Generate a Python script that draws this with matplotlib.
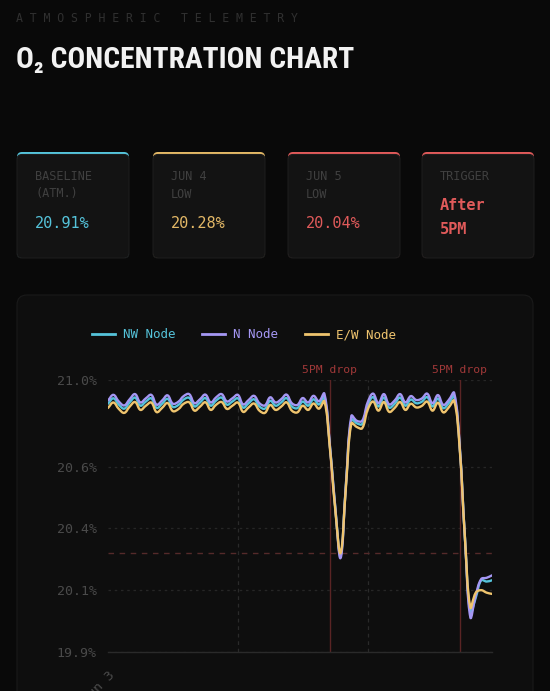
import numpy as np
import matplotlib
matplotlib.use("Agg")
import matplotlib.pyplot as plt
from matplotlib import font_manager as fm
from matplotlib.path import Path
from matplotlib.patches import PathPatch, FancyBboxPatch
from matplotlib.lines import Line2D
from matplotlib.transforms import Affine2D, blended_transform_factory

# ---------------- data ----------------
hours = list(range(72))  # hours since Jun 3 00:00

n_node = [20.917, 20.940, 20.913, 20.897, 20.922, 20.943, 20.909, 20.926, 20.940, 20.900,
          20.917, 20.938, 20.904, 20.912, 20.935, 20.943, 20.906, 20.922, 20.941, 20.909,
          20.930, 20.943, 20.913, 20.926, 20.940, 20.901, 20.919, 20.936, 20.906, 20.897,
          20.930, 20.909, 20.922, 20.941, 20.906, 20.899, 20.927, 20.909, 20.936, 20.914,
          20.945, 20.740, 20.490, 20.280, 20.580, 20.855, 20.835, 20.835, 20.909, 20.945,
          20.906, 20.943, 20.901, 20.917, 20.943, 20.909, 20.935, 20.919, 20.925, 20.945,
          20.906, 20.939, 20.899, 20.919, 20.948, 20.740, 20.360, 20.040, 20.130, 20.195,
          20.200, 20.210]

nw_node = [20.904, 20.926, 20.900, 20.884, 20.909, 20.929, 20.896, 20.913, 20.926, 20.887,
           20.904, 20.924, 20.891, 20.899, 20.921, 20.928, 20.893, 20.909, 20.927, 20.896,
           20.917, 20.929, 20.900, 20.913, 20.926, 20.888, 20.906, 20.922, 20.893, 20.884,
           20.916, 20.896, 20.909, 20.927, 20.893, 20.886, 20.913, 20.896, 20.922, 20.901,
           20.931, 20.740, 20.490, 20.290, 20.580, 20.840, 20.825, 20.822, 20.896, 20.931,
           20.893, 20.929, 20.888, 20.904, 20.929, 20.896, 20.921, 20.906, 20.912, 20.931,
           20.893, 20.925, 20.886, 20.906, 20.934, 20.740, 20.360, 20.060, 20.120, 20.190,
           20.185, 20.190]

ew_node = [20.887, 20.909, 20.883, 20.867, 20.892, 20.911, 20.879, 20.896, 20.909, 20.870,
           20.887, 20.907, 20.874, 20.882, 20.904, 20.910, 20.876, 20.892, 20.910, 20.879,
           20.900, 20.911, 20.883, 20.896, 20.909, 20.871, 20.889, 20.905, 20.876, 20.867,
           20.899, 20.879, 20.892, 20.910, 20.876, 20.869, 20.896, 20.879, 20.905, 20.884,
           20.914, 20.730, 20.480, 20.300, 20.570, 20.825, 20.810, 20.805, 20.879, 20.913,
           20.876, 20.911, 20.871, 20.887, 20.911, 20.879, 20.904, 20.889, 20.895, 20.913,
           20.876, 20.908, 20.869, 20.889, 20.916, 20.730, 20.360, 20.080, 20.140, 20.150,
           20.140, 20.135]

series_names = ["NW Node", "N Node", "E/W Node"]
series_values = [nw_node, n_node, ew_node]
series_colors = ["#55c3da", "#a597f4", "#efc46e"]

y_ticks = [19.9, 20.15, 20.4, 20.65, 21.0]
y_tick_labels = ["19.9%", "20.1%", "20.4%", "20.6%", "21.0%"]
y_limits = (19.9, 21.0)
x_limits = (0, 71)
x_tick_hours = [0]
x_tick_labels = ["Jun 3"]
day_grid_hours = [24, 48]
drop_hours = [41, 65]
drop_label = "5PM drop"
threshold = 20.30

cards = [
    {"label": "BASELINE\n(ATM.)", "value": "20.91%", "color": "#55c3da", "accent": "#55c3da"},
    {"label": "JUN 4\nLOW", "value": "20.28%", "color": "#e3b866", "accent": "#e3b866"},
    {"label": "JUN 5\nLOW", "value": "20.04%", "color": "#e05a5a", "accent": "#e05a5a"},
    {"label": "TRIGGER", "value": "After\n5PM", "color": "#e05a5a", "accent": "#e05a5a"},
]

# ---------------- figure ----------------
W, H = 550, 691
BG = "#090909"
fig = plt.figure(figsize=(W / 100, H / 100), dpi=100, facecolor=BG)
PX = Affine2D().scale(1, -1).translate(0, H)  # pixel coords from top-left
renderer = fig.canvas.get_renderer()

MONO = ["DejaVu Sans Mono"]


def px_box(x, y, w, h, fc, ec="none", r=6, lw=0.8, z=1):
    p = FancyBboxPatch((x, y), w, h, boxstyle=f"round,pad=0,rounding_size={r}",
                       transform=PX, facecolor=fc, edgecolor=ec, linewidth=lw, zorder=z)
    fig.add_artist(p)
    return p


def pick_condensed():
    narrow_stretch = ("condensed", "semi-condensed", "extra-condensed", "ultra-condensed")
    found = []
    for f in fm.fontManager.ttflist:
        st = str(f.stretch)
        is_cond = ("Condensed" in f.name or "Narrow" in f.name or st in narrow_stretch)
        try:
            wt = int(f.weight)
        except (TypeError, ValueError):
            wt = 700 if "bold" in str(f.weight).lower() else 400
        if is_cond and wt >= 600:
            found.append(f)
    prefer = ["Roboto Condensed", "Open Sans Condensed", "Liberation Sans Narrow",
              "Noto Sans", "DejaVu Sans", "Open Sans", "Roboto"]
    for p in prefer:
        for f in found:
            if f.name == p:
                return f.name, f.stretch
    if found:
        return found[0].name, found[0].stretch
    return "DejaVu Sans", "normal"


# header
fig.text(16, 18, "A T M O S P H E R I C   T E L E M E T R Y", transform=PX,
         family=MONO, fontsize=8.3, color="#303030", va="center", ha="left")

cname, cstretch = pick_condensed()
title = fig.text(16, 68, "O₂ CONCENTRATION CHART", transform=PX,
                 family=[cname, "DejaVu Sans"], fontweight="bold", fontstretch=cstretch,
                 fontsize=24, color="#f2f2f2", va="baseline", ha="left")
tw = title.get_window_extent(renderer).width
title.set_fontsize(min(24 * 339 / tw, 26.0))

# cards
card_left = [17, 153, 288, 422]
card_w, card_top, card_h = 112, 152, 106
for cx, c in zip(card_left, cards):
    px_box(cx, card_top, card_w, card_h, fc=c["accent"], r=5, z=1)
    px_box(cx, card_top + 2.5, card_w, card_h - 2.5, fc="#131313", ec="#1c1c1c", r=5, z=2)
    for i, ln in enumerate(c["label"].split("\n")):
        fig.text(cx + 18, 177 + 17 * i, ln, transform=PX, family=MONO, fontsize=8.6,
                 color="#404040", va="center", ha="left", zorder=3)
    val_lines = c["value"].split("\n")
    if len(val_lines) == 1:
        fig.text(cx + 18, 223, val_lines[0], transform=PX, family=MONO, fontsize=11,
                 color=c["color"], va="center", ha="left", zorder=3)
    else:
        for i, ln in enumerate(val_lines):
            fig.text(cx + 18, 206 + 23 * i, ln, transform=PX, family=MONO, fontsize=11,
                     color=c["color"], fontweight="bold", va="center", ha="left", zorder=3)

# chart panel
px_box(17, 295, 516, 420, fc="#0e0e0e", ec="#1a1a1a", r=10, z=1)

# axes
ax_l, ax_r, ax_t, ax_b = 108, 492, 380, 652
ax = fig.add_axes([ax_l / W, (H - ax_b) / H, (ax_r - ax_l) / W, (ax_b - ax_t) / H], zorder=5)
ax.set_facecolor("none")
ax.set_xlim(*x_limits)
ax.set_ylim(*y_limits)
for s in ["top", "right", "left"]:
    ax.spines[s].set_visible(False)
ax.spines["bottom"].set_color("#2a2a2a")
ax.spines["bottom"].set_linewidth(1)

ax.set_yticks(y_ticks)
ax.set_yticklabels(y_tick_labels, family=MONO, fontsize=9.5, color="#4a4a4a")
ax.set_xticks(x_tick_hours)
ax.set_xticklabels(x_tick_labels, family=MONO, fontsize=9.5, color="#4a4a4a",
                   rotation=45, ha="right", rotation_mode="anchor")
ax.tick_params(axis="both", length=0)
ax.tick_params(axis="y", pad=8)
ax.tick_params(axis="x", pad=12)
ax.yaxis.grid(True, color="#262626", linestyle=(0, (2, 3)), linewidth=0.9)
ax.set_axisbelow(True)

for h in day_grid_hours:
    ax.axvline(h, color="#2a2a2a", linestyle=(0, (3, 3)), linewidth=0.9, zorder=1)
for h in drop_hours:
    ax.axvline(h, color="#5a2424", linewidth=1.0, zorder=2)
ax.axhline(threshold, color="#552a2a", linestyle=(0, (4, 4)), linewidth=1.0, zorder=2)

bt = blended_transform_factory(ax.transData, ax.transAxes)
for h in drop_hours:
    ax.text(h, 1 + 10 / (ax_b - ax_t), drop_label, transform=bt, family=MONO, fontsize=8.2,
            color="#a03838", ha="center", va="center", clip_on=False)


def spline_path(xs, ys, tension=0.4):
    pts = ax.transData.transform(np.column_stack([xs, ys]))
    n = len(pts)
    cp_prev = np.zeros_like(pts)
    cp_next = np.zeros_like(pts)
    for i in range(n):
        prev = pts[max(i - 1, 0)]
        cur = pts[i]
        nxt = pts[min(i + 1, n - 1)]
        d01 = np.hypot(*(cur - prev))
        d12 = np.hypot(*(nxt - cur))
        tot = d01 + d12
        s01 = d01 / tot if tot else 0
        s12 = d12 / tot if tot else 0
        cp_prev[i] = cur - tension * s01 * (nxt - prev)
        cp_next[i] = cur + tension * s12 * (nxt - prev)
    verts = [pts[0]]
    codes = [Path.MOVETO]
    for i in range(1, n):
        verts += [cp_next[i - 1], cp_prev[i], pts[i]]
        codes += [Path.CURVE4] * 3
    verts = ax.transData.inverted().transform(np.array(verts))
    return Path(verts, codes)


for name, vals, col in zip(series_names, series_values, series_colors):
    patch = PathPatch(spline_path(hours, vals), facecolor="none", edgecolor=col,
                      linewidth=1.7, zorder=4, capstyle="round", joinstyle="round")
    ax.add_patch(patch)

handles = [Line2D([], [], color=c, linewidth=2) for c in series_colors]
leg = fig.legend(handles, series_names, loc="center", bbox_to_anchor=(244 / W, (H - 335) / H),
                 ncol=3, frameon=False, handlelength=1.85, handletextpad=0.65, columnspacing=2.1,
                 prop={"family": MONO, "size": 9})
for t, c in zip(leg.get_texts(), series_colors):
    t.set_color(c)

fig.savefig("out.png", dpi=100, facecolor=BG)
